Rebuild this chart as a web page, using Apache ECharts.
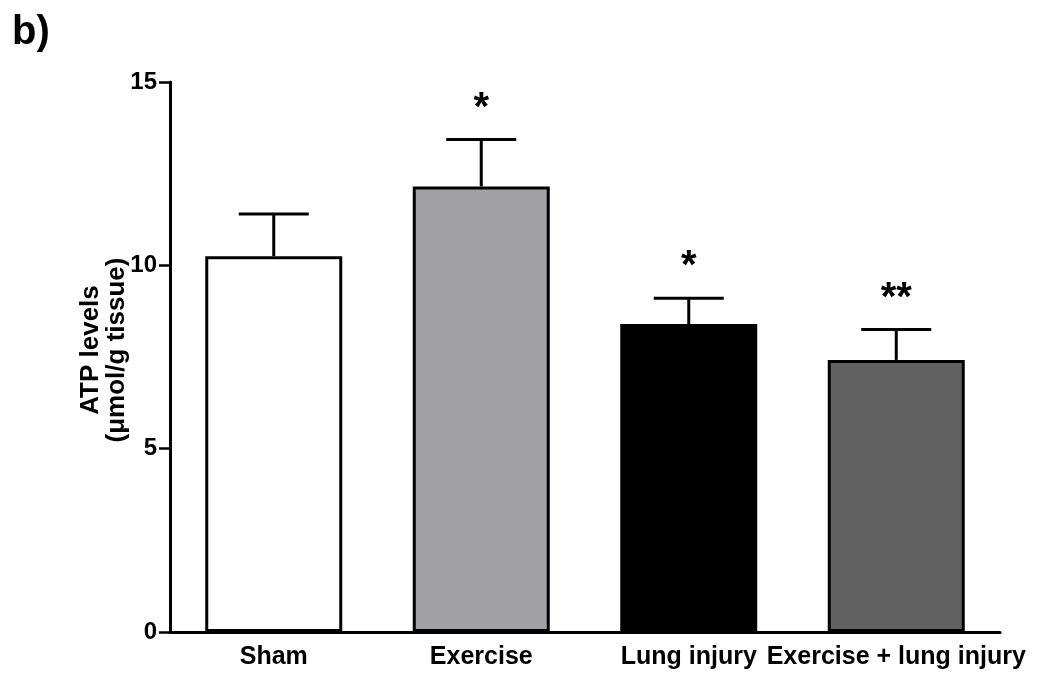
<!DOCTYPE html>
<html><head><meta charset="utf-8">
<script src="https://cdn.jsdelivr.net/npm/echarts@6/dist/echarts.min.js"></script>
<style>html,body{margin:0;padding:0;background:#fff}#c{width:1063px;height:677px}</style>
</head><body><div id="c"></div>
<script>
const categories = ['Sham', 'Exercise', 'Lung injury', 'Exercise + lung injury'];
const means = [10.25, 12.15, 8.40, 7.42];
const errTops = [11.40, 13.43, 9.10, 8.25];
const signif = ['', '*', '*', '**'];
const barColors = ['#ffffff', '#a2a2a6', '#000000', '#616161'];
const yTicks = [0, 5, 10, 15];

const chart = echarts.init(document.getElementById('c'));
const font = 'Liberation Sans, Arial, sans-serif';
chart.setOption({
  animation: false,
  title: { text: 'b)', left: 7, top: 8, textStyle: { fontFamily: font, fontWeight: 'bold', fontSize: 40, color: '#000' } },
  grid: { left: 170, right: 63, top: 82, bottom: 45 },
  xAxis: {
    type: 'category', data: categories,
    axisLine: { lineStyle: { color: '#000', width: 3 } },
    axisTick: { alignWithLabel: true, length: 10, lineStyle: { color: '#000', width: 2.5 } },
    axisLabel: { interval: 0, color: '#000', fontFamily: font, fontWeight: 'bold', fontSize: 25, margin: 13 }
  },
  yAxis: {
    type: 'value', min: 0, max: 15, interval: 5,
    name: '{a|ATP levels}\n{b|(\u03bcmol/g tissue)}',
    nameLocation: 'middle', nameGap: 40, nameRotate: 90, nameMoveOverlap: false,
    nameTextStyle: { color: '#000', fontFamily: font, lineHeight: 26, padding: [0, 0, 0, 14],
      rich: { a: { fontFamily: font, fontWeight: 'bold', fontSize: 26, color: '#000', lineHeight: 26 },
              b: { fontFamily: font, fontWeight: 'bold', fontSize: 26, color: '#000', lineHeight: 26 } } },
    splitLine: { show: false },
    axisLine: { show: true, lineStyle: { color: '#000', width: 3 } },
    axisTick: { show: true, length: 11, lineStyle: { color: '#000', width: 2.5 } },
    axisLabel: { color: '#000', fontFamily: font, fontWeight: 'bold', fontSize: 24, margin: 13,
      formatter: v => yTicks.includes(v) ? String(v) : '' }
  },
  series: [
    {
      type: 'custom',
      z: 1,
      renderItem: (params, api) => {
        const i = api.value(0);
        const base = api.coord([i, means[i]]);
        const top = api.coord([i, errTops[i]]);
        const half = 35;
        return { type: 'group', children: [
          { type: 'line', shape: { x1: base[0], y1: base[1], x2: top[0], y2: top[1] }, style: { stroke: '#000', lineWidth: 3 } },
          { type: 'line', shape: { x1: top[0] - half, y1: top[1], x2: top[0] + half, y2: top[1] }, style: { stroke: '#000', lineWidth: 3 } },
          { type: 'text', x: top[0], y: top[1] - 31, style: { text: signif[i], fill: '#000', font: 'bold 40px ' + font, align: 'center', verticalAlign: 'middle' } }
        ] };
      },
      data: categories.map((c, i) => [i, errTops[i]])
    },
    {
      type: 'bar', barWidth: 137, z: 2,
      data: means.map((v, i) => ({ value: v, itemStyle: { color: barColors[i], borderColor: '#000', borderWidth: 3 } }))
    }
  ]
});
</script></body></html>
